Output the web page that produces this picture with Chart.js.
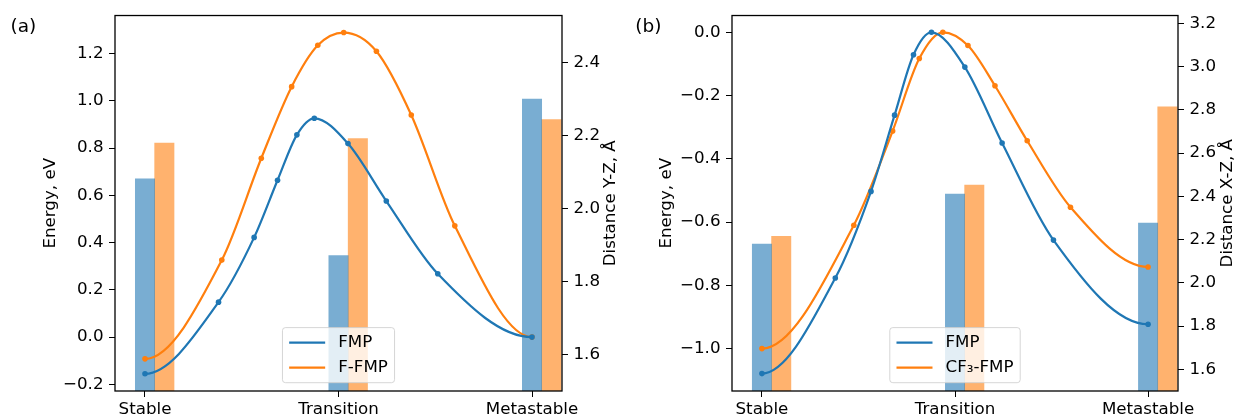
<!DOCTYPE html>
<html>
<head>
<meta charset="utf-8">
<script src="https://cdn.jsdelivr.net/npm/chart.js@4.4.1/dist/chart.umd.min.js"></script>
<style>
  body { margin: 0; background: #fff; }
  #wrap { position: relative; width: 1237px; height: 414px; overflow: hidden; }
  canvas { position: absolute; top: 0; }
</style>
</head>
<body>
<div id="wrap">
  <canvas id="chartA" width="630" height="414" style="left:0"></canvas>
  <canvas id="chartB" width="607" height="414" style="left:630px"></canvas>
</div>
<script>
const categories = ['Stable', 'Transition', 'Metastable'];

// (a) FMP vs F-FMP, energy along the path (x = reaction coordinate)
const fmpPathA = [0, 0.380, 0.564, 0.685, 0.785, 0.875, 1.049, 1.247, 1.513, 2.0];
const fmpEnergyA = [-0.155, 0.148, 0.422, 0.664, 0.856, 0.926, 0.819, 0.576, 0.268, 0.0];
const ffmpPathA = [0, 0.397, 0.601, 0.758, 0.893, 1.027, 1.196, 1.376, 1.601, 2.0];
const ffmpEnergyA = [-0.092, 0.326, 0.757, 1.060, 1.235, 1.289, 1.210, 0.940, 0.471, 0.0];
// (a) Y-Z distance per state
const fmpDistA = [2.081, 1.871, 2.299];
const ffmpDistA = [2.179, 2.191, 2.243];
const energyTicksA = [-0.2, 0, 0.2, 0.4, 0.6, 0.8, 1.0, 1.2];
const distTicksA = [1.6, 1.8, 2.0, 2.2, 2.4];

// (b) FMP vs CF3-FMP
const fmpPathB = [0, 0.380, 0.565, 0.687, 0.785, 0.878, 1.051, 1.244, 1.510, 2.0];
const fmpEnergyB = [-1.079, -0.777, -0.503, -0.262, -0.071, 0.0, -0.110, -0.350, -0.657, -0.923];
const cf3PathB = [0, 0.476, 0.677, 0.815, 0.937, 1.067, 1.207, 1.374, 1.598, 2.0];
const cf3EnergyB = [-1.0, -0.610, -0.312, -0.083, 0.0, -0.042, -0.169, -0.343, -0.553, -0.742];
// (b) X-Z distance per state
const fmpDistB = [2.179, 2.411, 2.276];
const cf3DistB = [2.215, 2.452, 2.814];
const energyTicksB = [-1.0, -0.8, -0.6, -0.4, -0.2, 0];
const distTicksB = [1.6, 1.8, 2.0, 2.2, 2.4, 2.6, 2.8, 3.0, 3.2];

const FS = 16.7;
const FONT = FS + 'px "DejaVu Sans", sans-serif';
Chart.defaults.font.family = '"DejaVu Sans", sans-serif';
Chart.defaults.font.size = FS;
Chart.defaults.color = '#000';

const BLUE = '#1f77b4';
const ORANGE = '#ff7f0e';
const BLUE_BAR = 'rgba(31,119,180,0.6)';
const ORANGE_BAR = 'rgba(255,127,14,0.6)';
const BAR_SHIFT = 0.1; // second bar sits one bar-width to the right

const fmtTick = v => (Math.abs(v) < 1e-9 ? 0 : v).toFixed(1).replace('-', '\u2212');
const toPoints = (xs, ys) => xs.map((x, i) => ({ x, y: ys[i] }));

// end states are minima: make the curve leave/arrive flat
const flatEnds = {
    id: 'flatEnds',
    beforeDatasetDraw(chart, args) {
        const meta = args.meta;
        if (meta.type !== 'line') return;
        const line = meta.dataset;
        line.updateControlPoints(chart.chartArea, 'x');
        const pts = line.points;
        if (pts.length < 2) return;
        pts[0].cp2y = pts[0].y;
        pts[pts.length - 1].cp1y = pts[pts.length - 1].y;
        line._path = undefined;
    }
};

// frame, right axis title, panel letter and the in-plot legend
const panelDecor = {
    id: 'panelDecor',
    afterDraw(chart, args, opts) {
        const { ctx, chartArea: a } = chart;
        ctx.save();
        ctx.strokeStyle = '#000';
        ctx.lineWidth = 1.3;
        ctx.strokeRect(a.left, a.top, a.right - a.left, a.bottom - a.top);

        ctx.fillStyle = '#000';
        ctx.font = FONT;
        ctx.save();
        ctx.translate(opts.rightTitleX, (a.top + a.bottom) / 2);
        ctx.rotate(-Math.PI / 2);
        ctx.textAlign = 'center';
        ctx.textBaseline = 'middle';
        ctx.fillText(opts.rightTitle, 0, 0);
        ctx.restore();

        ctx.font = '18.5px "DejaVu Sans", sans-serif';
        ctx.textAlign = 'left';
        ctx.textBaseline = 'alphabetic';
        ctx.fillText(opts.letter, opts.letterX, 31.5);

        // legend (line series only), lower centre
        const items = chart.data.datasets.filter(d => d.type === 'line');
        ctx.font = FONT;
        const textW = Math.max(...items.map(d => ctx.measureText(d.label).width));
        const pad = 6.7, handle = 36, gap = 13, rowH = FS, spacing = 8.3;
        const w = pad + handle + gap + textW + pad;
        const h = pad * 2 + rowH * items.length + spacing * (items.length - 1);
        const x = (a.left + a.right) / 2 - w / 2;
        const y = a.bottom - 8.3 - h;
        ctx.beginPath();
        ctx.roundRect(x, y, w, h, 3);
        ctx.fillStyle = 'rgba(255,255,255,0.8)';
        ctx.fill();
        ctx.strokeStyle = 'rgba(204,204,204,0.8)';
        ctx.lineWidth = 1;
        ctx.stroke();
        items.forEach((d, i) => {
            const ry = y + pad + rowH / 2 + i * (rowH + spacing);
            ctx.strokeStyle = d.borderColor;
            ctx.lineWidth = 2.2;
            ctx.beginPath();
            ctx.moveTo(x + pad, ry);
            ctx.lineTo(x + pad + handle, ry);
            ctx.stroke();
            ctx.fillStyle = '#000';
            ctx.textAlign = 'left';
            ctx.textBaseline = 'middle';
            ctx.fillText(d.label, x + pad + handle + gap, ry);
        });
        ctx.restore();
    }
};

function lineSet(label, color, xs, ys) {
    return {
        type: 'line', label, yAxisID: 'y', order: 0,
        data: toPoints(xs, ys),
        borderColor: color, backgroundColor: color,
        borderWidth: 2.2, cubicInterpolationMode: 'monotone',
        pointRadius: 2.8, pointBorderWidth: 0, pointBackgroundColor: color,
        fill: false
    };
}

function barSet(label, color, values, shift) {
    return {
        type: 'bar', label, yAxisID: 'y2', order: 1,
        data: values.map((v, i) => ({ x: i + shift, y: v })),
        backgroundColor: color, borderWidth: 0,
        grouped: false, barPercentage: 1, categoryPercentage: 1
    };
}

function makePanel(id, p) {
    const tickGrid = { display: true, drawOnChartArea: false, drawTicks: true, tickLength: 6, color: '#000', lineWidth: 1 };
    return new Chart(document.getElementById(id), {
        type: 'bar',
        data: {
            datasets: [
                lineSet(p.names[0], BLUE, p.path1, p.energy1),
                lineSet(p.names[1], ORANGE, p.path2, p.energy2),
                barSet(p.names[0] + ' distance', BLUE_BAR, p.dist1, 0),
                barSet(p.names[1] + ' distance', ORANGE_BAR, p.dist2, BAR_SHIFT)
            ]
        },
        options: {
            responsive: false,
            animation: false,
            layout: { padding: { top: 13, left: 0, right: 0, bottom: 0 } },
            plugins: {
                legend: { display: false },
                tooltip: { enabled: false },
                panelDecor: { rightTitle: p.rightTitle, rightTitleX: p.rightTitleX, letter: p.letter, letterX: p.letterX }
            },
            scales: {
                x: {
                    type: 'linear', min: -0.155, max: 2.155, offset: false,
                    grid: { ...tickGrid, offset: false },
                    border: { display: false },
                    afterBuildTicks: ax => { ax.ticks = categories.map((c, i) => ({ value: i })); },
                    ticks: { padding: 3, maxRotation: 0, callback: v => categories[v] ?? '' },
                    afterFit: ax => { ax.height = 23; }
                },
                y: {
                    position: 'left', min: p.eMin, max: p.eMax,
                    grid: tickGrid,
                    border: { display: false },
                    afterBuildTicks: ax => { ax.ticks = p.eTicks.map(v => ({ value: v })); },
                    ticks: { padding: 5.5, callback: fmtTick },
                    title: { display: true, text: 'Energy, eV', padding: { top: p.leftTitlePad, bottom: 0 } },
                    afterFit: ax => { ax.width = p.leftW; }
                },
                y2: {
                    position: 'right', min: p.dMin, max: p.dMax,
                    grid: tickGrid,
                    border: { display: false },
                    afterBuildTicks: ax => { ax.ticks = p.dTicks.map(v => ({ value: v })); },
                    ticks: { padding: 5.5, callback: fmtTick },
                    afterFit: ax => { ax.width = p.rightW; }
                }
            }
        },
        plugins: [flatEnds, panelDecor]
    });
}

makePanel('chartA', {
    names: ['FMP', 'F-FMP'],
    path1: fmpPathA, energy1: fmpEnergyA,
    path2: ffmpPathA, energy2: ffmpEnergyA,
    dist1: fmpDistA, dist2: ffmpDistA,
    eMin: -0.228, eMax: 1.361, eTicks: energyTicksA,
    dMin: 1.5, dMax: 2.528, dTicks: distTicksA,
    rightTitle: 'Distance Y-Z, \u00c5', rightTitleX: 611,
    letter: '(a)', letterX: 10.5,
    leftW: 115, rightW: 68, leftTitlePad: 40.5
});

makePanel('chartB', {
    names: ['FMP', 'CF\u2083-FMP'],
    path1: fmpPathB, energy1: fmpEnergyB,
    path2: cf3PathB, energy2: cf3EnergyB,
    dist1: fmpDistB, dist2: cf3DistB,
    eMin: -1.134, eMax: 0.053, eTicks: energyTicksB,
    dMin: 1.5, dMax: 3.236, dTicks: distTicksB,
    rightTitle: 'Distance X-Z, \u00c5', rightTitleX: 598,
    letter: '(b)', letterX: 5.2,
    leftW: 102, rightW: 59, leftTitlePad: 26.3
});
</script>
</body>
</html>
